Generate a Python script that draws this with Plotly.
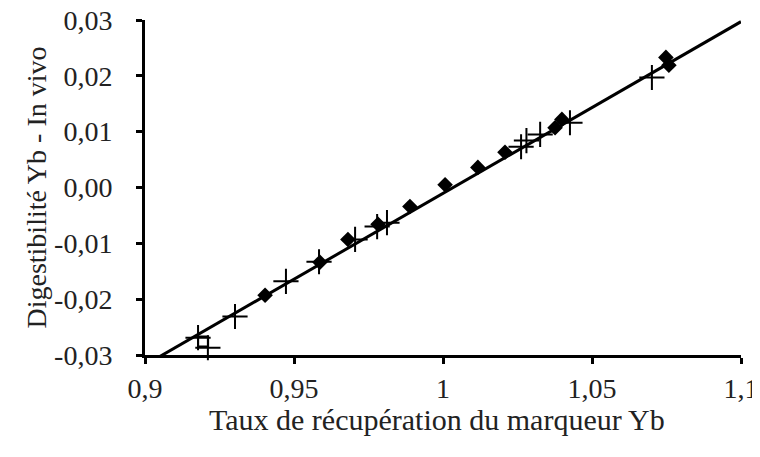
import plotly.graph_objects as go

# Filled diamonds
diamond_x = [0.9403, 0.9587, 0.9681, 0.9782, 0.9889, 1.0007, 1.0117, 1.0208, 1.0376, 1.0399, 1.0748, 1.0758]
diamond_y = [-0.0193, -0.0134, -0.0093, -0.0066, -0.0034, 0.0005, 0.0036, 0.0063, 0.0107, 0.0122, 0.0233, 0.0219]

# Plus markers
plus_x = [0.9178, 0.9211, 0.9302, 0.9473, 0.9584, 0.9705, 0.9779, 0.9812, 1.0262, 1.0280, 1.0326, 1.0426, 1.0701]
plus_y = [-0.0269, -0.0287, -0.0231, -0.0168, -0.0133, -0.0093, -0.0070, -0.0063, 0.0073, 0.0084, 0.0095, 0.0116, 0.0197]

# Open square
square_x = [0.9195]
square_y = [-0.0276]

# Regression line endpoints
fit_x = [0.9, 1.1]
fit_y = [-0.0318, 0.0297]

x_ticks = [0.9, 0.95, 1.0, 1.05, 1.1]
x_labels = ["0,9", "0,95", "1", "1,05", "1,1"]
y_ticks = [-0.03, -0.02, -0.01, 0.0, 0.01, 0.02, 0.03]
y_labels = ["-0,03", "-0,02", "-0,01", "0,00", "0,01", "0,02", "0,03"]
x_title = "Taux de récupération du marqueur Yb"
y_title = "Digestibilité Yb - In vivo"

fig = go.Figure()
fig.add_trace(go.Scatter(x=fit_x, y=fit_y, mode="lines",
                         line=dict(color="black", width=3), showlegend=False))
fig.add_trace(go.Scatter(x=diamond_x, y=diamond_y, mode="markers",
                         marker=dict(symbol="diamond", size=12, color="black"),
                         showlegend=False, cliponaxis=False))
fig.add_trace(go.Scatter(x=plus_x, y=plus_y, mode="markers",
                         marker=dict(symbol="cross-thin", size=18,
                                     line=dict(color="black", width=2)),
                         showlegend=False, cliponaxis=False))
fig.add_trace(go.Scatter(x=square_x, y=square_y, mode="markers",
                         marker=dict(symbol="square-open", size=10, color="black",
                                     line=dict(color="black", width=2)),
                         showlegend=False, cliponaxis=False))

font_family = '"Liberation Serif", "Times New Roman", Times, serif'
tick_fs = 28
fig.update_layout(
    width=752, height=449,
    margin=dict(l=137, r=19, t=12, b=102, autoexpand=False),
    plot_bgcolor="white", paper_bgcolor="white",
    font=dict(family=font_family, size=tick_fs, color="#222222"),
    xaxis=dict(range=[0.9, 1.1], tickvals=x_ticks, ticktext=x_labels,
               showgrid=False, zeroline=False, showline=True, linecolor="black",
               linewidth=3, ticks="outside", ticklen=6, tickwidth=3, tickcolor="black",
               tickfont=dict(size=tick_fs, family=font_family), ticklabelstandoff=0,
               ticklabeloverflow="allow", automargin=False),
    yaxis=dict(range=[-0.03, 0.03], tickvals=y_ticks, ticktext=y_labels,
               showgrid=False, zeroline=False, showline=True, linecolor="black",
               linewidth=3, ticks="outside", ticklen=6, tickwidth=3, tickcolor="black",
               tickfont=dict(size=tick_fs, family=font_family), ticklabelstandoff=18,
               ticklabeloverflow="allow", automargin=False,
               title=dict(text=y_title,
                          font=dict(size=28, family=font_family), standoff=0)),
    annotations=[dict(text=x_title, xref="paper", yref="paper", x=0.5, y=0,
                      xanchor="center", yanchor="middle", xshift=-6, yshift=-64,
                      showarrow=False, font=dict(size=30, family=font_family, color="#222222"))],
)

fig.write_html("out.html")
